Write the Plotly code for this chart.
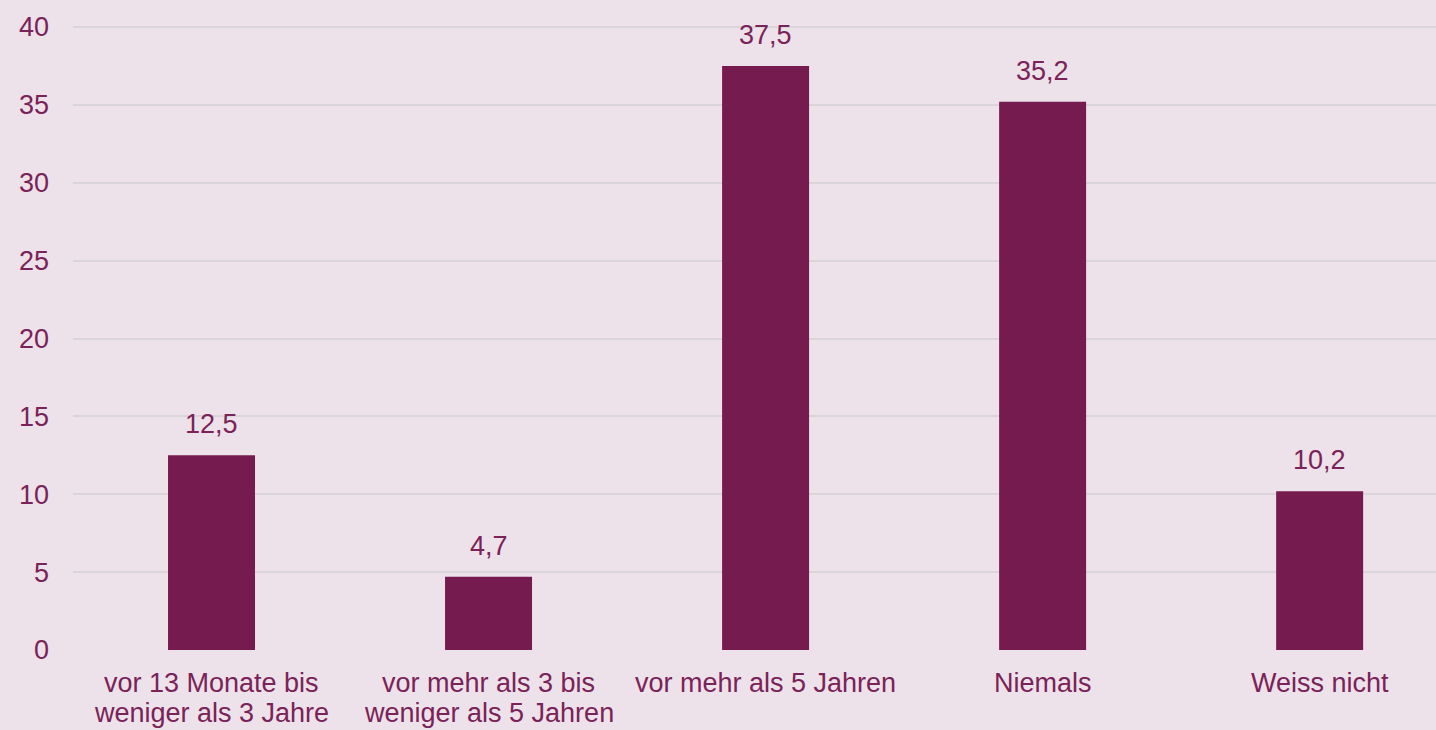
import plotly.graph_objects as go

categories = [
    ["vor 13 Monate bis", "weniger als 3 Jahre"],
    ["vor mehr als 3 bis", "weniger als 5 Jahren"],
    ["vor mehr als 5 Jahren"],
    ["Niemals"],
    ["Weiss nicht"],
]
values = [12.5, 4.7, 37.5, 35.2, 10.2]
y_ticks = [0, 5, 10, 15, 20, 25, 30, 35, 40]

BG = "#EDE1EA"
BAR = "#751B50"
TXT = "#7A2358"
GRID = "#DAD5D9"
FONT = "Liberation Sans, Arial, sans-serif"

W, H = 1436, 730
M_L, M_R, M_T, M_B = 73, 0, 25, 80
PLOT_H = H - M_T - M_B
Y_MAX = 40 * PLOT_H / 623.0

x_idx = list(range(len(categories)))

fig = go.Figure()
fig.add_trace(go.Bar(
    x=x_idx, y=values, width=0.314,
    marker=dict(color=BAR, line=dict(width=0)),
    hoverinfo="skip",
))

# value labels
for i, v in zip(x_idx, values):
    fig.add_annotation(
        x=i, y=v, xref="x", yref="y",
        text=f"{v:.1f}".replace(".", ","),
        showarrow=False, yanchor="bottom", yshift=14,
        font=dict(family=FONT, size=27, color=TXT),
    )

# category labels (one annotation per line for tight line spacing)
line_centers_px = [683, 713]
for i, lines in zip(x_idx, categories):
    for k, line in enumerate(lines):
        fig.add_annotation(
            x=i, xref="x", yref="paper",
            y=-(line_centers_px[k] - (H - M_B)) / PLOT_H,
            text=line, showarrow=False, yanchor="middle",
            font=dict(family=FONT, size=27, color=TXT),
        )

fig.update_layout(
    width=W, height=H,
    margin=dict(l=M_L, r=M_R, t=M_T, b=M_B),
    paper_bgcolor=BG, plot_bgcolor=BG,
    showlegend=False,
    separators=",.",
    font=dict(family=FONT, size=27, color=TXT),
    xaxis=dict(
        range=[-0.5, 4.42],
        tickmode="array", tickvals=x_idx, showticklabels=False,
        showgrid=False, zeroline=False, showline=False, ticks="",
        fixedrange=True,
    ),
    yaxis=dict(
        range=[0, Y_MAX],
        tickmode="array", tickvals=y_ticks,
        showgrid=True, gridcolor=GRID, gridwidth=2,
        zeroline=False, showline=False, ticks="",
        ticklabelstandoff=23,
        tickfont=dict(family=FONT, size=27, color=TXT),
        fixedrange=True,
    ),
)

fig.write_html(
    "out.html",
    config={"displayModeBar": False},
    post_script="document.body.style.margin='0';document.body.style.background='" + BG + "';",
)
